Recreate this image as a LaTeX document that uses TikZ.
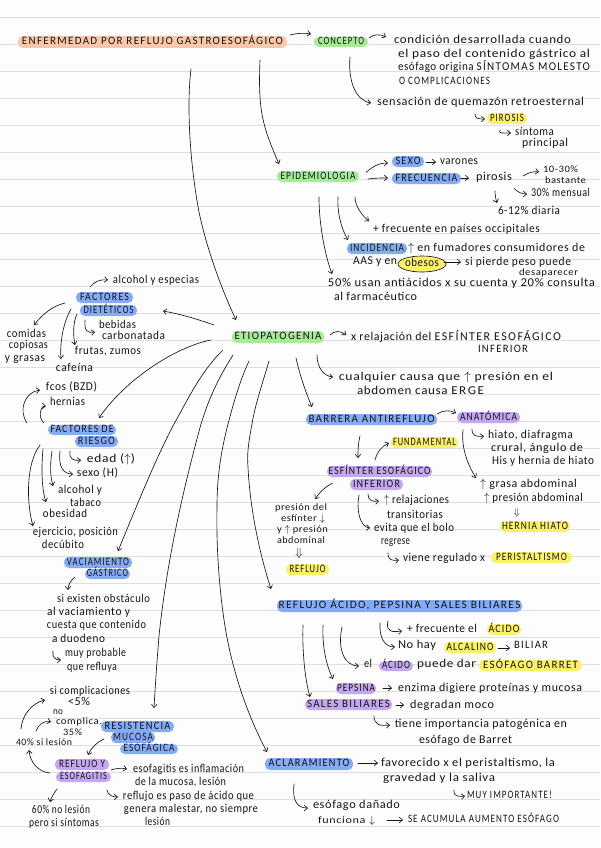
\documentclass[tikz,border=0pt]{standalone}
\usepackage{fontspec}
\usepackage{graphicx}
\usetikzlibrary{arrows.meta,shapes.geometric}
\setmainfont[LetterSpace=5]{Carlito}
\newfontfamily\capsf[LetterSpace=12]{Carlito}
\definecolor{paper}{HTML}{FDFDFD}
\definecolor{rule}{HTML}{DEDEDE}
\definecolor{peach}{HTML}{F9C8AA}
\definecolor{mint}{HTML}{A6EC95}
\definecolor{bluep}{HTML}{86ABF5}
\definecolor{yel}{HTML}{FBF06C}
\definecolor{purp}{HTML}{C4A6F1}
\definecolor{ink}{HTML}{151515}
\tikzset{
  tx/.style={inner sep=0pt,outer sep=0pt,text=ink,text height=8pt,text depth=2.6pt,font=\fontsize{12}{12}\selectfont},
  smalltx/.style={tx,text height=6.8pt,text depth=2pt,font=\fontsize{9.8}{10}\selectfont},
  hlbox/.style={inner sep=0pt,outer sep=0pt,text=ink,rounded corners=5pt,text height=7.6pt,text depth=2.2pt,font=\capsf\fontsize{11.3}{12}\selectfont},
  arr/.style={draw=ink,line width=0.65pt,-{Straight Barb[length=3.2pt,width=5.5pt]},line cap=round},
}
% \TX{name}{x1}{x2}{y}{text}
\newcommand\TX[5]{\pgfmathsetmacro\tw{#3-#2}\node[tx] (#1) at ({(#2+#3)/2},#4) {\resizebox{\tw pt}{\height}{#5}};}
\newcommand\TS[5]{\pgfmathsetmacro\tw{#3-#2}\node[smalltx] (#1) at ({(#2+#3)/2},#4) {\resizebox{\tw pt}{\height}{#5}};}
\newcommand\TC[5]{\pgfmathsetmacro\tw{#3-#2}\node[tx,font=\capsf\fontsize{11.3}{12}\selectfont] (#1) at ({(#2+#3)/2},#4) {\resizebox{\tw pt}{\height}{#5}};}
% \HL{name}{colour}{x1}{x2}{y1}{y2}{text width}{text}
\newcommand\HL[8]{\pgfmathsetmacro\bw{#4-#3}\pgfmathsetmacro\bh{#6-#5}\node[hlbox,fill=#2,minimum width=\bw pt,minimum height=\bh pt] (#1) at ({(#3+#4)/2},{(#5+#6)/2}) {\resizebox{#7pt}{\height}{#8}};}
\newcommand\cv[6]{\draw[arr] ([shift={(#2)}]#1.center) .. controls (#3) and (#4) .. ([shift={(#6)}]#5.center);}
\newcommand\st[4]{\draw[arr] ([shift={(#2)}]#1.center) -- ([shift={(#4)}]#3.center);}
\begin{document}
\begin{tikzpicture}[x=1pt,y=-1pt]
\useasboundingbox (0,0) rectangle (600,848);
\fill[paper] (0,0) rectangle (600,848);
\foreach \i in {0,...,30}{\draw[rule,line width=0.9pt] (0,{17.3+26.96*\i}) -- (600,{17.3+26.96*\i});}

% --- highlighted labels
\HL{title}{peach}{18}{287}{36}{48}{261}{ENFERMEDAD POR REFLUJO GASTROESOFÁGICO}
\HL{concepto}{mint}{314}{368}{37}{47}{46}{CONCEPTO}
\HL{epi}{mint}{277}{359}{171}{182}{75}{EPIDEMIOLOGIA}
\HL{sexo}{bluep}{392}{424}{156}{167}{25}{SEXO}
\HL{frec}{bluep}{392}{461}{173}{184}{62}{FRECUENCIA}
\HL{piro}{yel}{487}{527}{113}{124}{34}{PIROSIS}
\HL{inci}{bluep}{347}{407}{243}{254}{54}{INCIDENCIA}
\node[tx,draw=ink,line width=0.65pt,fill=yel,ellipse,minimum width=42pt,minimum height=16pt] (obes) at (422,264) {\resizebox{34pt}{\height}{obesos}};
\HL{etio}{mint}{232}{324}{331}{343}{87}{ETIOPATOGENIA}
\HL{facd}{bluep}{76}{133}{292}{303}{49}{FACTORES}
\HL{diet}{bluep}{80}{137}{305}{316}{50}{DIETÉTICOS}
\HL{facr}{bluep}{48}{116}{425}{435}{63}{FACTORES DE}
\HL{ries}{bluep}{75}{118}{436}{447}{37}{RIESGO}
\HL{vac}{bluep}{64}{132}{557}{568}{62}{VACIAMIENTO}
\HL{gas}{bluep}{85}{130}{569}{579}{41}{GÁSTRICO}
\HL{barr}{bluep}{306}{437}{414}{425}{126}{BARRERA ANTIREFLUJO}
\HL{anat}{purp}{457}{520}{412}{423}{57}{ANATÓMICA}
\HL{fund}{yel}{391}{458}{437}{448}{63}{FUNDAMENTAL}
\HL{esfi}{purp}{327}{432}{466}{477}{102}{ESFÍNTER ESOFÁGICO}
\HL{infe}{purp}{350}{403}{479}{490}{47}{INFERIOR}
\HL{hhiato}{yel}{500}{570}{521}{532}{66}{HERNIA HIATO}
\HL{peri}{yel}{491}{572}{552}{563}{71}{PERISTALTISMO}
\HL{refy}{yel}{286}{329}{564}{575}{36}{REFLUJO}
\HL{reac}{bluep}{277}{522}{600}{612}{242}{REFLUJO ÁCIDO, PEPSINA Y SALES BILIARES}
\HL{acido}{yel}{487}{521}{624}{635}{31}{ÁCIDO}
\HL{alca}{yel}{444}{496}{642}{653}{47}{ALCALINO}
\HL{acip}{purp}{379}{413}{661}{671}{28}{ÁCIDO}
\HL{barrett}{yel}{479}{582}{660}{671}{95}{ESÓFAGO BARRET}
\HL{pep}{purp}{336}{376}{683}{694}{38}{PEPSINA}
\HL{sales}{purp}{305}{392}{699}{710}{83}{SALES BILIARES}
\HL{acl}{bluep}{265}{353}{758}{770}{81}{ACLARAMIENTO}
\HL{res}{bluep}{101}{174}{721}{732}{66}{RESISTENCIA}
\HL{muc}{bluep}{111}{155}{732}{743}{40}{MUCOSA}
\HL{esof}{bluep}{120}{178}{744}{754}{51}{ESOFÁGICA}
\HL{ref2}{purp}{55}{109}{759}{770}{46}{REFLUJO Y}
\HL{esfg}{purp}{56}{111}{772}{782}{47}{ESOFAGITIS}

% --- plain text
\TX{cond}{394}{571}{41}{condición desarrollada cuando}
\TX{l2}{398}{590}{55}{el paso del contenido gástrico al}
\TX{l3}{398}{590}{68}{esófago origina {\capsf SÍNTOMAS MOLESTO}}
\TC{l4}{399}{490}{82}{O COMPLICACIONES}
\TX{sens}{377}{584}{103}{sensación de quemazón retroesternal}
\TX{sint}{515}{554}{133}{síntoma}
\TX{prin}{522}{568}{144}{principal}
\TX{varones}{440}{478}{162}{varones}
\TX{piros}{476}{512}{178}{pirosis}
\TS{pct10}{543}{578}{170}{10-30\%}
\TS{bast}{545}{586}{181}{bastante}
\TX{pct30}{531}{590}{194}{30\% mensual}
\TX{pct6}{498}{560}{212}{6-12\% diaria}
\TX{masfrec}{373}{540}{230}{+ frecuente en países occipitales}
\TX{fuma}{408}{585}{249}{$\uparrow$ en fumadores consumidores de}
\TX{aas}{353}{397}{262}{AAS y en}
\TX{sipierde}{465}{571}{263}{si pierde peso puede}
\TS{desap}{519}{578}{273}{desaparecer}
\TX{usan}{328}{595}{284}{50\% usan antiácidos x su cuenta y 20\% consulta}
\TX{farm}{334}{417}{298}{al farmacéutico}
\TX{xrel}{351}{561}{338}{x relajación del {\capsf ESFÍNTER ESOFÁGICO}}
\TC{inf2}{478}{528}{350}{INFERIOR}
\TX{cual}{339}{553}{378}{cualquier causa que $\uparrow$ presión en el}
\TX{abdo}{357}{484}{392}{abdomen causa {\capsf ERGE}}
\TX{alcoh}{113}{199}{281}{alcohol y especias}
\TX{bebi}{99}{136}{326}{bebidas}
\TX{carb}{102}{165}{337}{carbonatada}
\TX{comi}{7}{46}{335}{comidas}
\TX{copi}{9}{48}{346}{copiosas}
\TX{gras}{5}{45}{359}{y grasas}
\TX{frut}{75}{141}{352}{frutas, zumos}
\TX{cafe}{56}{93}{369}{cafeína}
\TX{fcos}{46}{97}{388}{fcos (BZD)}
\TX{hern}{50}{85}{403}{hernias}
\TX{edad}{87}{135}{460}{edad ($\uparrow$)}
\TX{sexh}{77}{118}{474}{sexo (H)}
\TX{alct}{58}{102}{491}{alcohol y}
\TX{taba}{70}{101}{504}{tabaco}
\TX{obsd}{43}{87}{515}{obesidad}
\TX{ejer}{33}{118}{533}{ejercicio, posición}
\TX{decu}{42}{84}{546}{decúbito}
\TX{siex}{57}{150}{600}{si existen obstáculo}
\TX{alva}{47}{130}{613}{al vaciamiento y}
\TX{cues}{47}{146}{626}{cuesta que contenido}
\TX{duo}{52}{105}{640}{a duodeno}
\TX{muy}{65}{126}{654}{muy probable}
\TX{qref}{67}{117}{668}{que refluya}
\TX{sicomp}{50}{130}{692}{si complicaciones}
\TX{lt5}{68}{90}{703}{<5\%}
\TS{noc}{53}{63}{712}{no}
\TS{compl}{56}{102}{722.5}{complica.}
\TS{p35}{63}{82}{733}{35\%}
\TS{l40}{16}{72}{743.5}{40\% si lesión}
\TX{esoinf}{133}{244}{770}{esofagitis es inflamación}
\TX{mucl}{135}{226}{783}{de la mucosa, lesión}
\TX{refpaso}{123}{254}{797}{reflujo es paso de ácido que}
\TX{gene}{124}{258}{810}{genera malestar, no siempre}
\TX{lesi}{145}{170}{823}{lesión}
\TX{p60}{32}{90}{811}{60\% no lesión}
\TX{pero}{29}{99}{824}{pero si síntomas}
\TX{hiato}{488}{573}{436}{hiato, diafragma}
\TX{crur}{491}{583}{449}{crural, ángulo de}
\TX{his}{492}{594}{462}{His y hernia de hiato}
\TX{grasa}{480}{577}{485}{$\uparrow$ grasa abdominal}
\TX{presa}{484}{583}{499}{$\uparrow$ presión abdominal}
\node[smalltx] (dn1) at (517,513) {$\Downarrow$};
\TS{pres}{275}{327}{508}{presión del}
\TS{esft}{281}{325}{519}{esfínter $\downarrow$}
\TS{yup}{277}{328}{530}{y $\uparrow$ presión}
\TS{abdm}{277}{325}{541}{abdominal}
\node[tx] (dn2) at (299,554) {$\Downarrow$};
\TX{rela}{384}{449}{501}{$\uparrow$ relajaciones}
\TX{tran}{387}{443}{516}{transitorias}
\TX{evita}{374}{454}{529}{evita que el bolo}
\TX{regr}{381}{410}{542}{regrese}
\TX{viene}{403}{485}{559}{viene regulado x}
\TX{mf}{407}{477}{630}{+ frecuente el}
\TX{nohay}{398}{436}{646}{No hay}
\TC{bili}{514}{548}{646}{BILIAR}
\TX{el}{364}{372}{665}{el}
\TX{puede}{417}{476}{665}{puede dar}
\TX{enz}{398}{582}{689}{enzima digiere proteínas y mucosa}
\TX{degr}{410}{494}{706}{degradan moco}
\TX{tiene}{395}{567}{725}{tiene importancia patogénica en}
\TX{barrt}{419}{512}{741}{esófago de Barret}
\TX{favo}{381}{555}{764}{favorecido x el peristaltismo, la}
\TX{grav}{383}{495}{779}{gravedad y la saliva}
\TC{muyimp}{467}{552}{796}{MUY IMPORTANTE!}
\TX{esdan}{313}{400}{806}{esófago dañado}
\TS{func}{318}{375}{821}{funciona $\downarrow$}
\TC{seac}{408}{559}{820}{SE ACUMULA AUMENTO ESÓFAGO}

% --- connectors
\cv{title}{137.5,-7}{297,33}{305,33}{concepto}{-30,-8}
\cv{concepto}{28,-4}{374,34}{380,34}{cond}{-96.5,-4}
\cv{concepto}{9,15}{348,80}{355,100}{sens}{-109.5,0}
\cv{sens}{-5.5,11}{475,118}{477,119}{piro}{-22,0.5}
\cv{piro}{-7,11.5}{498,134}{503,133}{sint}{-23.5,0}
\cv{title}{107.5,18}{258,110}{262,125}{epi}{-39,-12.5}
\draw[arr] ([shift={(38.5,27)}]title.center) .. controls (186,110) and (191,170) .. (199,212) .. controls (207,250) and (222,290) .. ([shift={(-42,-17)}]etio.center);
\cv{epi}{48,-4}{372,167}{378,163}{sexo}{-20,1.5}
\cv{epi}{50,2.5}{375,178}{380,178}{frec}{-38.5,-0.5}
\st{sexo}{18,0.5}{varones}{-23,0}
\st{frec}{34.5,-0.5}{piros}{-25,0}
\cv{piros}{29,-2}{528,173}{533,171}{pct10}{-21.5,2}
\cv{piros}{20,10}{517,192}{522,194}{pct30}{-33.5,0}
\cv{piros}{1,13}{495,195}{496,200}{pct6}{-32,-9}
\cv{epi}{37,20.5}{355,205}{361,215}{masfrec}{-87.5,-9}
\cv{epi}{20,20.5}{337,212}{341,228}{inci}{-29,-8.5}
\cv{epi}{1,20.5}{319,225}{325,255}{usan}{-129.5,-10}
\st{obes}{22,-2}{sipierde}{-57,-1}
\cv{etio}{52,-2}{334,331}{340,330}{xrel}{-110,-3}
\cv{etio}{39,18}{317,368}{324,376}{cual}{-113,-1}
\cv{etio}{18,21}{300,376}{306,393}{barr}{-59.5,-12.5}
\cv{etio}{-64,-12}{197,319}{180,314}{diet}{54.5,0.5}
\cv{etio}{-67,3}{175,347}{125,380}{facr}{17,-12}
\draw[arr] ([shift={(-55,13)}]etio.center) .. controls (200,372) and (185,405) .. (174,424) .. controls (155,460) and (135,510) .. ([shift={(20,-11.5)}]vac.center);
\draw[arr] ([shift={(-45,18)}]etio.center) .. controls (214,385) and (207,405) .. (201,424) .. controls (183,490) and (167,560) .. (159,636) .. controls (157,660) and (155,690) .. ([shift={(16.5,-18.5)}]res.center);
\draw[arr] ([shift={(-29,24)}]etio.center) .. controls (240,380) and (233,405) .. (228,424) .. controls (220,455) and (217,480) .. (217,507) .. controls (216,550) and (220,600) .. (226.7,636) .. controls (235,680) and (250,720) .. ([shift={(-42,-12)}]acl.center);
\draw[arr] ([shift={(-9,24)}]etio.center) .. controls (262,385) and (255,405) .. (252,424) .. controls (248,445) and (247,455) .. (248,467) .. controls (250,510) and (260,555) .. ([shift={(-128.5,-17)}]reac.center);
\cv{facd}{-14.5,-10.5}{94,282}{100,279}{alcoh}{-48,-1}
\cv{facd}{-39.5,5.5}{52,306}{42,315}{comi}{7.5,-10}
\cv{diet}{-37.5,-1.5}{62,325}{60,345}{cafe}{-13.5,-10}
\cv{diet}{-31.5,3.5}{73,322}{73,335}{frut}{-33,-7}
\cv{diet}{-23.5,9.5}{84,332}{88,333}{bebi}{-22.5,6}
\cv{facr}{-55,-7}{18,410}{25,392}{fcos}{-31.5,2}
\cv{facr}{-38,-7}{38,418}{40,406}{hern}{-21.5,3}
\cv{ries}{-26.5,9.5}{69,459}{73,461}{edad}{-30,0}
\cv{ries}{-36.5,9.5}{58,468}{64,474}{sexh}{-24.5,0}
\cv{ries}{-44.5,9.5}{50,465}{50,475}{alct}{-27,-5}
\cv{ries}{-53.5,7.5}{41,470}{42,490}{obsd}{-19,-13}
\cv{ries}{-56.5,3.5}{25,465}{27,505}{ejer}{-42.5,-7}
\cv{gas}{-32.5,3}{71,580}{68,585}{siex}{-35.5,-10}
\cv{duo}{-25.5,11}{52,657}{55,660}{muy}{-34.5,6}
\cv{l40}{-23,-14.5}{22,715}{32,703}{sicomp}{-45,8}
\cv{l40}{-8,-12.5}{38,725}{44,720}{compl}{-28,-0.5}
\cv{esfg}{-33.5,-4}{38,772}{30,762}{l40}{-15,6.5}
\cv{muc}{-29,1.5}{97,742}{91,748}{ref2}{6,-9.5}
\cv{esfg}{-26.5,12}{54,793}{51,798}{p60}{-11,-9}
\cv{esfg}{27.5,-7}{117,768}{122,768}{esoinf}{-61.5,-1}
\cv{esfg}{23.5,13}{108,795}{112,797}{refpaso}{-70.5,0}
\cv{barr}{-11.5,16.5}{358,444}{358,450}{esfi}{-21.5,-13.5}
\cv{esfi}{-4.5,-11.5}{377,452}{382,446}{fund}{-35.5,0.5}
\cv{barr}{65.5,-5.5}{443,410}{450,410}{anat}{-32.5,-4.5}
\cv{anat}{-16.5,11.5}{472,436}{476,437}{hiato}{-46.5,0}
\cv{anat}{-25.5,12.5}{461,448}{468,465}{grasa}{-52.5,-7}
\cv{esfi}{-46.5,11.5}{326,486}{320,492}{pres}{14,-9}
\cv{infe}{-8.5,9.5}{368,500}{372,502}{rela}{-37.5,0}
\cv{infe}{-17.5,10.5}{356,510}{360,527}{evita}{-44,-1}
\cv{regr}{-7.5,11}{388,560}{392,561}{viene}{-45,1}
\cv{reac}{-11.5,15}{385,633}{394,632}{mf}{-40,1}
\cv{reac}{-19.5,17}{379,638}{385,647}{nohay}{-22,1}
\cv{reac}{-57.5,21}{337,650}{345,666}{el}{-9,1}
\cv{reac}{-76.5,19}{322,645}{326,665}{pep}{-23,-9.5}
\cv{reac}{-96.5,19}{302,650}{305,680}{sales}{-38.5,-7.5}
\st{alca}{28,0.5}{bili}{-21,2}
\st{pep}{27,-0.5}{enz}{-98,-1}
\st{sales}{47.5,0.5}{degr}{-48,-1}
\cv{sales}{25.5,11.5}{374,725}{380,726}{tiene}{-91,0}
\st{acl}{49,-1}{favo}{-90,-1}
\cv{grav}{15,11}{453,796}{458,797}{muyimp}{-44.5,0}
\cv{acl}{-15,20}{292,802}{298,808}{esdan}{-48.5,2}
\st{func}{40.5,-1}{seac}{-80.5,0}
\end{tikzpicture}
\end{document}
